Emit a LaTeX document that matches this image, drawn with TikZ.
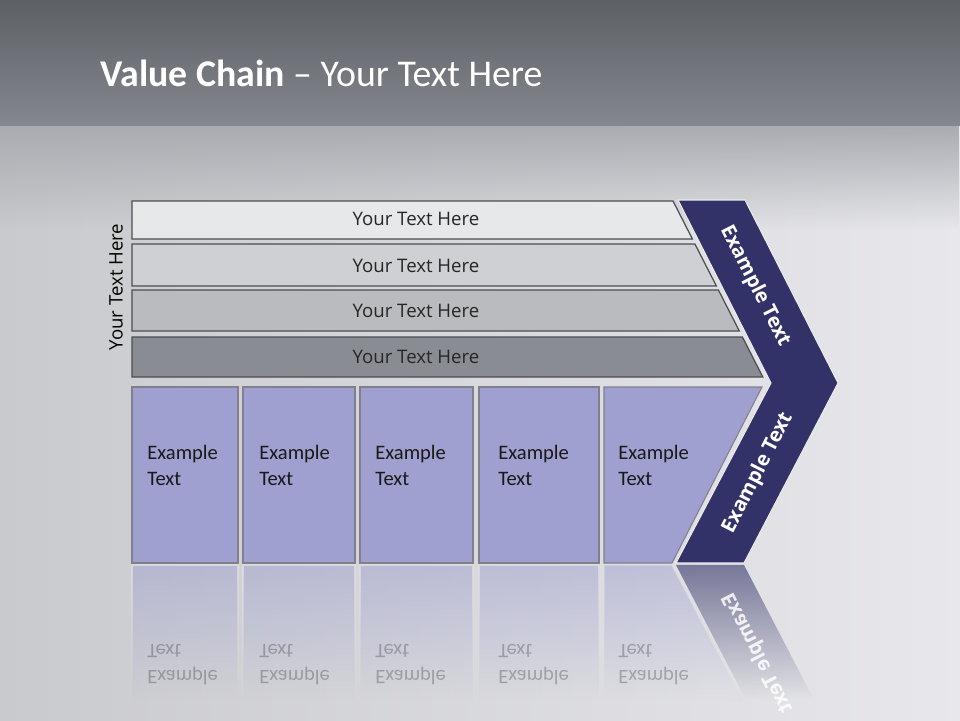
\documentclass[tikz,border=0pt]{standalone}
\usepackage{fontspec}
\setmainfont{Carlito}
\newfontfamily\barfont{Open Sans}
\usetikzlibrary{positioning,fadings}

\definecolor{bandtop}{HTML}{5D6065}
\definecolor{bandbot}{HTML}{84878E}
\definecolor{bgshade}{HTML}{A9ABB0}
\definecolor{bgleft}{HTML}{C9CACD}
\definecolor{bgright}{HTML}{E8E8EC}
\definecolor{barA}{HTML}{E7E8EA}
\definecolor{barB}{HTML}{CED0D3}
\definecolor{barC}{HTML}{B9BBBE}
\definecolor{barD}{HTML}{898C92}
\definecolor{barline}{HTML}{4B4D52}
\definecolor{boxfill}{HTML}{9FA0D0}
\definecolor{boxline}{HTML}{80808C}
\definecolor{chevron}{HTML}{323268}

\tikzset{
  bar/.style={draw=barline, line width=0.7pt},
  bartext/.style={font=\barfont\fontsize{10.6}{13}\selectfont, text=black!85},
  box/.style={draw=boxline, fill=boxfill, line width=0.6pt},
  boxtext/.style={font=\fontsize{11.7}{14.8}\selectfont, align=left,
                  anchor=north west, inner sep=0pt, text=black!90},
  arm/.style={fill=chevron, draw=white!85!gray, line width=0.6pt},
  armtext/.style={font=\barfont\bfseries\fontsize{11.4}{13}\selectfont, text=white},
  reflbox/.style={fill=boxfill, draw=white!75!gray, line width=0.8pt,
                  path fading=south, fill opacity=0.5, draw opacity=0.8},
  refltext/.style={text opacity=0.28}
}

\begin{document}
\begin{tikzpicture}[x=0.02cm, y=-0.02cm]
  \useasboundingbox (0,0) rectangle (960,720);

  % Background
  \fill[left color=bgleft, right color=bgright] (0,0) rectangle (960,720);
  \fill[bgshade, path fading=south] (0,125) rectangle (960,230);
  \fill[top color=bandtop, bottom color=bandbot] (0,0) rectangle (960,125);

  % Title
  \node[anchor=west, text=white, font=\fontsize{21.5}{26}\selectfont] (title)
        at (94,73) {\textbf{Value Chain} – Your Text Here};

  % Bars
  \fill[barA, bar] (132,201) -- (673,201) -- (692.4,239) -- (132,239) -- cycle;
  \fill[barB, bar] (132,244) -- (694.9,244) -- (716.4,286) -- (132,286) -- cycle;
  \fill[barC, bar] (132,290) -- (718.4,290) -- (739.3,331) -- (132,331) -- cycle;
  \fill[barD, bar] (132,337) -- (742.4,337) -- (762.8,377) -- (132,377) -- cycle;
  \node[bartext] (bar1) at (416,219) {Your Text Here};
  \node[bartext] (bar2) at (416,266) {Your Text Here};
  \node[bartext] (bar3) at (416,311) {Your Text Here};
  \node[bartext] (bar4) at (416,357) {Your Text Here};
  \node[bartext, rotate=90, text=black] (side) at (116,287) {Your Text Here};

  % Boxes
  \draw[box] (132,387) rectangle (238,563);
  \draw[box] (243,387) rectangle (355,563);
  \draw[box] (360,387) rectangle (473,563);
  \draw[box] (479,387) rectangle (599,563);
  \draw[box] (604,387) -- (762,387) -- (672,563) -- (604,563) -- cycle;
  \node[boxtext] (box1) at (147,445) {Example\\Text};
  \node[boxtext] (box2) at (259,445) {Example\\Text};
  \node[boxtext] (box3) at (375,445) {Example\\Text};
  \node[boxtext] (box4) at (498,445) {Example\\Text};
  \node[boxtext] (box5) at (618,445) {Example\\Text};

  % Chevron
  \draw[arm] (678,200) -- (745,200) -- (838,383) -- (744,563) -- (676,563)
             -- (771,383) -- cycle;
  \node[armtext, rotate=-63] (arm1) at (755,286) {Example Text};
  \node[armtext, rotate=63] (arm2) at (758,473) {Example Text};

  % Reflection
  \draw[reflbox] (132,565) rectangle (238,700);
  \draw[reflbox] (243,565) rectangle (355,700);
  \draw[reflbox] (360,565) rectangle (473,700);
  \draw[reflbox] (479,565) rectangle (599,700);
  \draw[reflbox] (604,565) -- (672,565) -- (742,700) -- (604,700) -- cycle;
  \fill[chevron, path fading=south, fill opacity=0.6]
        (676,565) -- (744,565) -- (814,700) -- (746,700) -- cycle;
  \begin{scope}[shift={(0,563)}, yscale=-1, shift={(0,-563)}, transform shape]
    \node[boxtext, refltext] (refl1) at (147,441) {Example\\Text};
    \node[boxtext, refltext] (refl2) at (259,441) {Example\\Text};
    \node[boxtext, refltext] (refl3) at (375,441) {Example\\Text};
    \node[boxtext, refltext] (refl4) at (498,441) {Example\\Text};
    \node[boxtext, refltext] (refl5) at (618,441) {Example\\Text};
    \node[armtext, rotate=63, text opacity=0.85] (reflarm) at (758,473) {Example Text};
  \end{scope}
\end{tikzpicture}
\end{document}
